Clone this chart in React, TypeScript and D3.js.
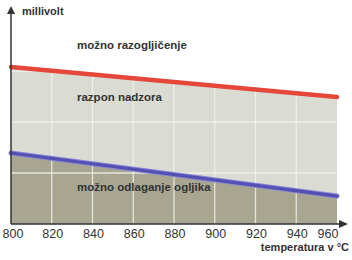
import React from "react";
import * as d3 from "d3";

const temperatures = [800, 960];
const upperLimit = [770, 622];
const lowerLimit = [348, 137];
const xTicks = [800, 820, 840, 860, 880, 900, 920, 940, 960];
const yGrid = [250, 500, 750];
const regionLabels = ["možno razogljičenje", "razpon nadzora", "možno odlaganje ogljika"];

const W = 352, H = 260;
const x = d3.scaleLinear().domain([800, 960]).range([11, 337]);
const y = d3.scaleLinear().domain([0, 1000]).range([224, 20]);

export default function App() {
  const upperPts = temperatures.map((t, i) => [t, upperLimit[i]] as [number, number]);
  const lowerPts = temperatures.map((t, i) => [t, lowerLimit[i]] as [number, number]);
  const area = d3.area<[number, number]>().x(d => x(d[0])).y0(y(0)).y1(d => y(d[1]));
  const line = d3.line<[number, number]>().x(d => x(d[0])).y(d => y(d[1]));
  const font = "'Liberation Sans', Arial, Helvetica, sans-serif";
  return (
    <svg width={W} height={H} style={{ position: "absolute", left: 0, top: 0 }}>
      <defs>
        <clipPath id="plotClip">
          <path d={area(upperPts) || ""} />
        </clipPath>
      </defs>
      <rect width={W} height={H} fill="#ffffff" />
      <path d={area(upperPts) || ""} fill="#dadcd4" />
      <path d={area(lowerPts) || ""} fill="#a8a690" />
      <g clipPath="url(#plotClip)">
        {xTicks.slice(1, -1).map(t => (
          <line key={t} x1={x(t)} x2={x(t)} y1={y(0)} y2={0} stroke="#f4f4ee" strokeWidth={1.3} opacity={0.8} />
        ))}
        {yGrid.map(v => (
          <line key={v} x1={x(800)} x2={x(960)} y1={y(v)} y2={y(v)} stroke="#f4f4ee" strokeWidth={1.3} opacity={0.8} />
        ))}
      </g>
      <path d={line(lowerPts) || ""} fill="none" stroke="#8a86d8" strokeWidth={5} strokeLinecap="round" />
      <path d={line(lowerPts) || ""} fill="none" stroke="#5450b2" strokeWidth={3.2} strokeLinecap="round" />
      <path d={line(upperPts) || ""} fill="none" stroke="#e6473b" strokeWidth={4.5} strokeLinecap="round" />
      {/* axes */}
      <line x1={x(800)} x2={x(800)} y1={y(0)} y2={12} stroke="#333" strokeWidth={1.5} />
      <path d={`M${x(800) - 4},14 L${x(800)},6 L${x(800) + 4},14 Z`} fill="#333" />
      <line x1={x(800)} x2={343} y1={y(0)} y2={y(0)} stroke="#333" strokeWidth={1.5} />
      <path d={`M339,${y(0) - 4} L348,${y(0)} L339,${y(0) + 4} Z`} fill="#333" />
      {xTicks.map((t, i) => (
        <text key={t} x={x(t) + (i === 0 ? 2 : i === xTicks.length - 1 ? -9 : 1)} y={237.5} textAnchor="middle"
          fontFamily={font} fontSize={12.5} fill="#333">{t}</text>
      ))}
      <text x={22} y={15} fontFamily={font} fontSize={11} fontWeight="bold" fill="#333">millivolt</text>
      <text x={349} y={251} textAnchor="end" fontFamily={font} fontSize={11} fontWeight="bold" fill="#333">temperatura v °C</text>
      <text x={77} y={49} fontFamily={font} fontSize={11.5} fontWeight="bold" fill="#333">{regionLabels[0]}</text>
      <text x={77} y={101} fontFamily={font} fontSize={11.5} fontWeight="bold" fill="#333">{regionLabels[1]}</text>
      <text x={77} y={191} fontFamily={font} fontSize={11.5} fontWeight="bold" fill="#333">{regionLabels[2]}</text>
    </svg>
  );
}
